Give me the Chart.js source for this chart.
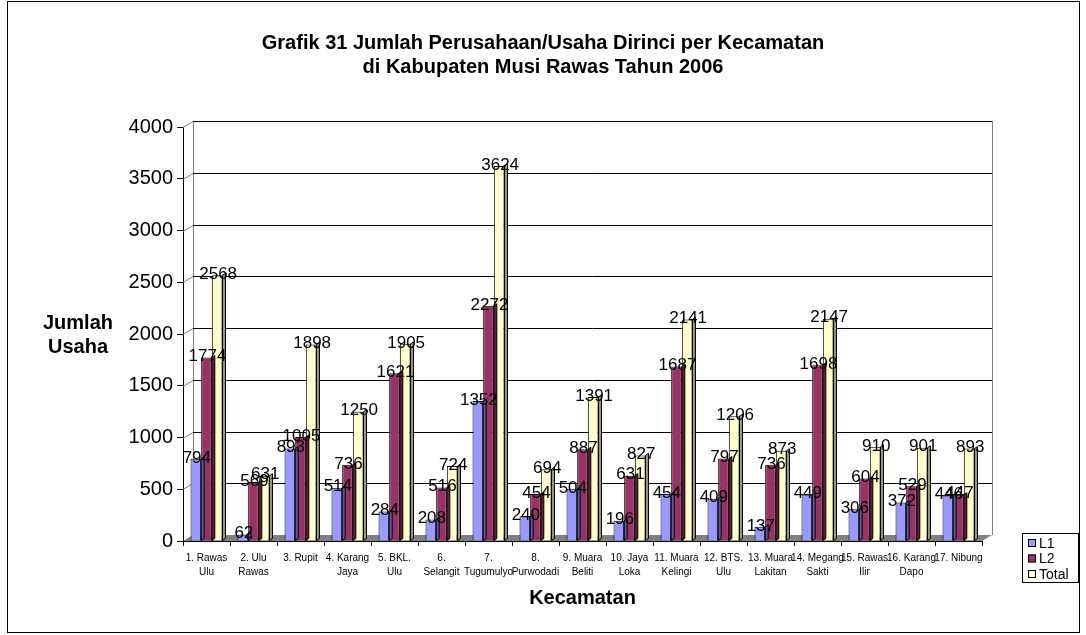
<!DOCTYPE html>
<html>
<head>
<meta charset="utf-8">
<script src="https://cdn.jsdelivr.net/npm/chart.js@4/dist/chart.umd.min.js"></script>
<style>
  html, body { margin: 0; padding: 0; background: #fff; }
  #wrap { position: relative; width: 1086px; height: 635px; }
  #frame { position: absolute; left: 7px; top: 1px; width: 1071px; height: 630px; border: 1px solid #000; pointer-events: none; }
</style>
</head>
<body>
<div id="wrap">
  <canvas id="chart1" width="1086" height="635"></canvas>
  <div id="frame"></div>
</div>
<script>
// data
var kecamatan = [
    ["1. Rawas", "Ulu"], ["2. Ulu", "Rawas"], ["3. Rupit"], ["4. Karang", "Jaya"],
    ["5. BKL.", "Ulu"], ["6.", "Selangit"], ["7.", "Tugumulyo"], ["8.", "Purwodadi"],
    ["9. Muara", "Beliti"], ["10. Jaya", "Loka"], ["11. Muara", "Kelingi"], ["12. BTS.", "Ulu"],
    ["13. Muara", "Lakitan"], ["14. Megang", "Sakti"], ["15. Rawas", "Ilir"], ["16. Karang", "Dapo"],
    ["17. Nibung"]
];
var L1 = [794, 62, 893, 514, 284, 208, 1352, 240, 504, 196, 454, 409, 137, 449, 306, 372, 446];
var L2 = [1774, 569, 1005, 736, 1621, 516, 2272, 454, 887, 631, 1687, 797, 736, 1698, 604, 529, 447];
var Total = [2568, 631, 1898, 1250, 1905, 724, 3624, 694, 1391, 827, 2141, 1206, 873, 2147, 910, 901, 893];
var yTicks = [0, 500, 1000, 1500, 2000, 2500, 3000, 3500, 4000];

var seriesNames = ["L1", "L2", "Total"];
var fills = ["#9999FF", "#993366", "#FFFFCC"];
var sides = ["#5c5c99", "#5c1f3d", "#99997a"];

var ARIAL = "Arial, 'Liberation Sans', sans-serif";

// depth of the back wall
var DX = 10, DY = 6;

// back wall, floor and grid lines (fake 3d)
var wallPlugin = {
    id: "wall",
    beforeDatasetsDraw: function(chart) {
        var ctx = chart.ctx;
        var a = chart.chartArea;
        var y = chart.scales.y;
        ctx.save();
        // floor
        ctx.fillStyle = "#808080";
        ctx.beginPath();
        ctx.moveTo(a.left, a.bottom);
        ctx.lineTo(a.right, a.bottom);
        ctx.lineTo(a.right + DX, a.bottom - DY);
        ctx.lineTo(a.left + DX, a.bottom - DY);
        ctx.closePath();
        ctx.fill();
        ctx.lineWidth = 1;
        // wall edges
        ctx.strokeStyle = "#808080";
        ctx.beginPath();
        ctx.moveTo(a.left + DX + 0.5, y.getPixelForValue(4000) - DY);
        ctx.lineTo(a.left + DX + 0.5, a.bottom - DY);
        ctx.moveTo(a.right + DX + 0.5, y.getPixelForValue(4000) - DY);
        ctx.lineTo(a.right + DX + 0.5, a.bottom - DY);
        ctx.stroke();
        // grid lines on the back wall
        yTicks.forEach(function(v) {
            if (v === 0) return;
            var py = Math.round(y.getPixelForValue(v) - DY) + 0.5;
            ctx.strokeStyle = "#000";
            ctx.beginPath();
            ctx.moveTo(a.left + DX, py);
            ctx.lineTo(a.right + DX, py);
            ctx.stroke();
            ctx.strokeStyle = "#808080";
            ctx.beginPath();
            ctx.moveTo(a.left, py + DY);
            ctx.lineTo(a.left + DX, py);
            ctx.stroke();
        });
        ctx.restore();
    }
};

// side faces of the bars and the value labels
var barPlugin = {
    id: "bar3d",
    afterDatasetsDraw: function(chart) {
        var ctx = chart.ctx;
        ctx.save();
        chart.data.datasets.forEach(function(ds, i) {
            var meta = chart.getDatasetMeta(i);
            meta.data.forEach(function(bar) {
                var r = bar.x + bar.width / 2;
                ctx.fillStyle = sides[i];
                ctx.strokeStyle = "#000";
                ctx.lineWidth = 1;
                ctx.beginPath();
                ctx.moveTo(r, bar.y);
                ctx.lineTo(r + 3, bar.y - 2);
                ctx.lineTo(r + 3, bar.base - 2);
                ctx.lineTo(r, bar.base);
                ctx.closePath();
                ctx.fill();
                ctx.stroke();
            });
        });
        ctx.fillStyle = "#000";
        ctx.font = "17px " + ARIAL;
        ctx.textAlign = "center";
        ctx.textBaseline = "middle";
        chart.data.datasets.forEach(function(ds, i) {
            var meta = chart.getDatasetMeta(i);
            meta.data.forEach(function(bar, j) {
                ctx.fillText(ds.data[j], bar.x + 1, bar.y - 1);
            });
        });
        ctx.restore();
    }
};

// y title (horizontal) and boxed legend
var extrasPlugin = {
    id: "extras",
    afterDraw: function(chart) {
        var ctx = chart.ctx;
        ctx.save();
        ctx.fillStyle = "#000";
        ctx.font = "bold 20px " + ARIAL;
        ctx.textAlign = "center";
        ctx.textBaseline = "middle";
        ctx.fillText("Jumlah", 78, 323);
        ctx.fillText("Usaha", 78, 347);

        // legend
        var lx = 1022, ly = 533, lw = 56, lh = 49;
        ctx.strokeStyle = "#000";
        ctx.lineWidth = 1;
        ctx.fillStyle = "#fff";
        ctx.fillRect(lx, ly, lw, lh);
        ctx.strokeRect(lx + 0.5, ly + 0.5, lw, lh);
        ctx.font = "14px " + ARIAL;
        ctx.textAlign = "left";
        seriesNames.forEach(function(name, i) {
            var cy = ly + 10 + i * 15.5;
            ctx.fillStyle = fills[i];
            ctx.fillRect(lx + 6, cy - 4, 8, 8);
            ctx.strokeRect(lx + 6.5, cy - 3.5, 7, 7);
            ctx.fillStyle = "#000";
            ctx.fillText(name, lx + 17, cy + 1);
        });
        ctx.restore();
    }
};

var datasets = [L1, L2, Total].map(function(vals, i) {
    return {
        label: seriesNames[i],
        data: vals,
        backgroundColor: fills[i],
        borderColor: "#000",
        borderWidth: 1,
        categoryPercentage: 0.68,
        barPercentage: 1
    };
});

var myChart = document.getElementById("chart1").getContext("2d");
var chart = new Chart(myChart, {
    type: "bar",
    data: {
        labels: kecamatan,
        datasets: datasets
    },
    plugins: [wallPlugin, barPlugin, extrasPlugin],
    options: {
        responsive: false,
        animation: false,
        layout: { padding: 0 },
        plugins: {
            legend: { display: false },
            tooltip: { enabled: false },
            title: {
                display: true,
                text: ["Grafik 31 Jumlah Perusahaan/Usaha Dirinci per Kecamatan", "di Kabupaten Musi Rawas Tahun 2006"],
                color: "#000",
                font: { family: ARIAL, size: 20, weight: "bold", lineHeight: 1.2 },
                padding: { top: 31, bottom: 48 }
            }
        },
        scales: {
            x: {
                grid: { display: true, drawOnChartArea: false, offset: true, color: "#000", tickLength: 5 },
                border: { display: true, color: "#000" },
                ticks: {
                    color: "#000",
                    maxRotation: 0,
                    autoSkip: false,
                    padding: 5,
                    font: { family: ARIAL, size: 10, lineHeight: 1.4 }
                },
                title: {
                    display: true,
                    text: "Kecamatan",
                    color: "#000",
                    font: { family: ARIAL, size: 20, weight: "bold" },
                    padding: { top: 8, bottom: 25 }
                },
                afterFit: function(scale) { scale.height = 94; }
            },
            y: {
                min: 0,
                max: 4000,
                grid: { display: true, drawOnChartArea: false, color: "#000", tickLength: 6 },
                border: { display: true, color: "#000" },
                ticks: {
                    stepSize: 500,
                    color: "#000",
                    padding: 4,
                    font: { family: ARIAL, size: 20 },
                    callback: function(v) { return String(v); }
                },
                afterFit: function(scale) { scale.width = 183; }
            },
            // empty space on the right for the legend
            side: {
                type: "linear",
                position: "right",
                display: true,
                grid: { display: false },
                border: { display: false },
                ticks: { display: false },
                afterFit: function(scale) { scale.width = 104; }
            }
        }
    }
});
</script>
</body>
</html>
